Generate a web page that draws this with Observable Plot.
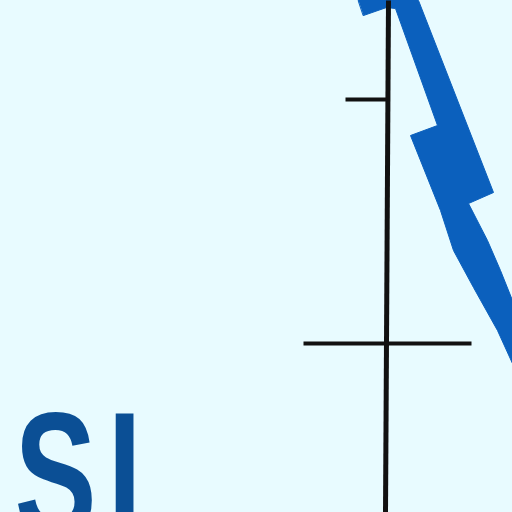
<!DOCTYPE html>
<html>
<head>
<meta charset="utf-8">
<script src="https://cdn.jsdelivr.net/npm/d3@7"></script>
<script src="https://cdn.jsdelivr.net/npm/@observablehq/plot@0.6"></script>
<style>
  html, body { margin: 0; padding: 0; background: #e8fbff; overflow: hidden; }
  #chart svg { display: block; }
</style>
</head>
<body>
<div id="chart"></div>
<script>
// outline of the thick blue band (zig-zag), in picture units 0..512
const bandX = [358, 418, 493, 468, 487, 500, 512, 512, 497, 473, 453, 440, 410, 437, 395, 386, 363];
const bandY = [0, 0, 192, 203, 240, 270, 300, 363, 330, 287, 250, 210, 135, 125, 8, 7, 15];

// black axis and its two ticks
const segX1 = [388, 345, 303];
const segY1 = [0, 99, 343];
const segX2 = [385, 387, 471];
const segY2 = [512, 99, 343];
const segW  = [5, 4, 4];

// the big letters at the bottom
const letters = ["S", "I"];
const letterX = [14, 107];
const letterY = [410, 410];

const band = bandX.map((x, i) => ({x, y: bandY[i]}));
const segs = segX1.map((x1, i) => ({x1, y1: segY1[i], x2: segX2[i], y2: segY2[i], w: segW[i]}));
const words = letters.map((t, i) => ({t, x: letterX[i], y: letterY[i]}));

let chart = Plot.plot({
  width: 512,
  height: 512,
  margin: 0,
  style: {background: "#e8fbff"},
  x: {domain: [0, 512], range: [0, 512], axis: null},
  y: {domain: [0, 512], range: [0, 512], axis: null},
  marks: [
    Plot.line(band, {x: "x", y: "y", curve: "linear-closed", fill: "#0b60bd", stroke: "#0b60bd", strokeWidth: 1}),
    Plot.link(segs, {x1: "x1", y1: "y1", x2: "x2", y2: "y2", stroke: "#111", strokeWidth: d => d.w}),
    Plot.text(words, {
      x: "x", y: "y", text: "t",
      textAnchor: "start", lineAnchor: "top",
      fontSize: 176, fontWeight: "bold",
      fontFamily: "Liberation Sans, Arial, sans-serif",
      fill: "#0b4f95"
    })
  ]
});

// squeeze the letters so they look condensed
d3.select(chart).selectAll("g[aria-label=text] text").each(function() {
  const t = d3.select(this).attr("transform") || "";
  d3.select(this).attr("transform", t + " scale(0.7,1)");
});

d3.select('#chart').append(() => chart);
</script>
</body>
</html>
